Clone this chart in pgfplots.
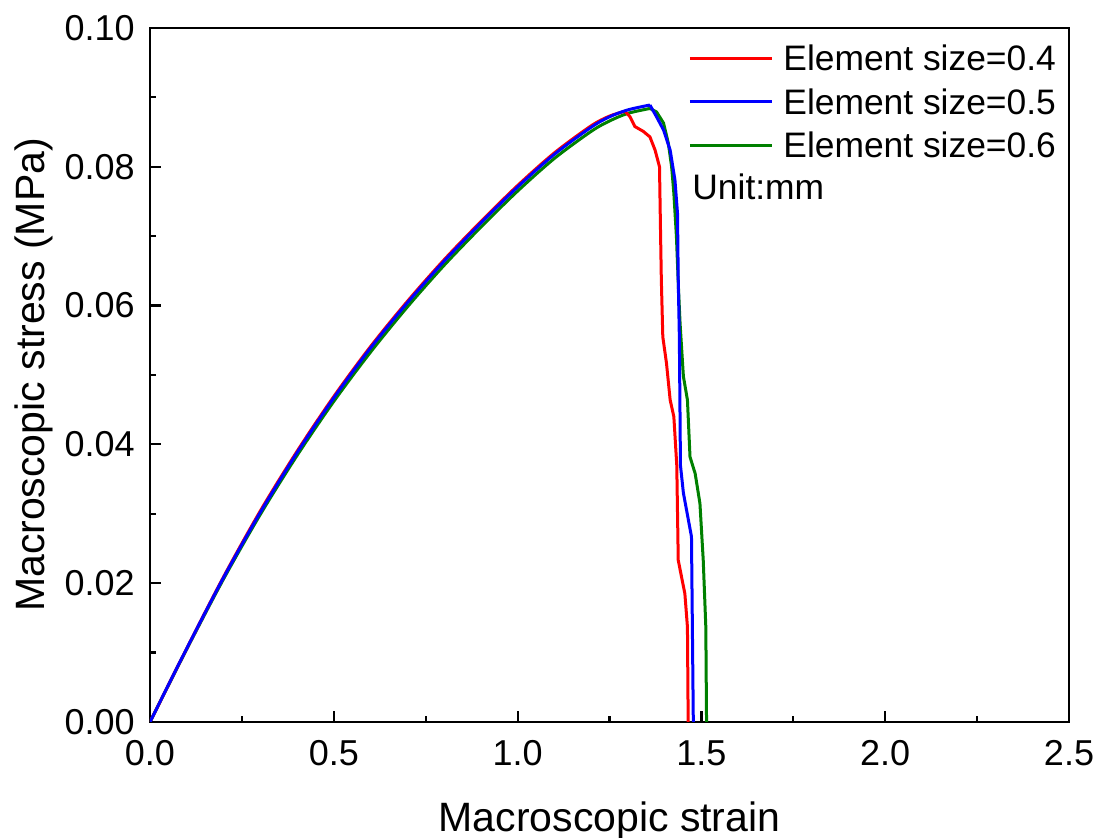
\documentclass[border=0pt]{standalone}
\usepackage{pgfplots}
\pgfplotsset{compat=1.18}
\usepackage{fontspec}
\setmainfont{Liberation Sans}
\definecolor{cred}{RGB}{255,0,0}
\definecolor{cblue}{RGB}{0,0,255}
\definecolor{cgreen}{RGB}{0,128,0}
\begin{document}
\begin{tikzpicture}
\path[use as bounding box] (-75pt,-58pt) rectangle (475.5pt,361pt);
\begin{axis}[
  at={(0pt,0pt)}, anchor=south west,
  scale only axis, width=459.5pt, height=347pt,
  xmin=0, xmax=2.5, ymin=0, ymax=0.1,
  axis line style={line width=1.1pt},
  xtick={0,0.5,...,2.5}, ytick={0,0.02,...,0.1},
  minor x tick num=1, minor y tick num=1,
  tick align=inside, xtick pos=bottom, ytick pos=left,
  major tick length=5.5pt, minor tick length=3pt,
  every tick/.style={black, line width=1.1pt},
  /pgf/number format/assume math mode=true,
  xticklabel style={/pgf/number format/.cd, fixed, fixed zerofill, precision=1, /tikz/.cd, font=\fontsize{18}{20}\selectfont, inner sep=0pt, anchor=north, yshift=-9pt},
  yticklabel style={/pgf/number format/.cd, fixed, fixed zerofill, precision=2, /tikz/.cd, font=\fontsize{18}{20}\selectfont, inner sep=0pt, anchor=east, xshift=-7.5pt},
  scaled y ticks=false,
  xlabel={Macroscopic strain},
  ylabel={Macroscopic stress (MPa)},
  every axis x label/.style={at={(axis description cs:0.5,-0.1585)}, anchor=base, inner sep=0pt, font=\fontsize{20.5}{22}\selectfont},
  every axis y label/.style={at={(axis description cs:-0.1153,0.5)}, rotate=90, anchor=base, inner sep=0pt, font=\fontsize{20.5}{22}\selectfont},
  legend cell align=left,
  legend style={at={(axis description cs:0.5854,0.9748)}, anchor=north west, draw=none, fill=none, inner sep=0pt, row sep=9.25pt, column sep=5pt,
    font=\fontsize{17.7}{19}\selectfont, nodes={inner sep=0pt, text height=12.5pt, text depth=0pt}},
  legend image code/.code={\draw[#1] (0pt,0pt) -- (41pt,0pt);},
  every axis plot/.append style={line width=1.5pt},
]
\addlegendimage{cred}
\addlegendentry{Element size=0.4}
\addlegendimage{cblue}
\addlegendentry{Element size=0.5}
\addlegendimage{cgreen}
\addlegendentry{Element size=0.6}
% green (size 0.6)
\addplot[cgreen, smooth, forget plot] coordinates {
(0,0) (0.1,0.0105) (0.2,0.0206) (0.3,0.0299) (0.4,0.0384) (0.5,0.0462) (0.6,0.0533)
(0.7,0.0598) (0.8,0.0658) (0.9,0.0713) (1.0,0.0765) (1.1,0.0812) (1.2,0.0851) (1.25,0.0866)
(1.3,0.0877) (1.36,0.0884)
};
\addplot[cgreen, forget plot] coordinates {
(1.36,0.0884) (1.378,0.0879) (1.397,0.0863) (1.410,0.0834) (1.419,0.0800)
(1.425,0.0762) (1.432,0.0700) (1.438,0.0620) (1.442,0.0574) (1.451,0.0498) (1.462,0.0464)
(1.469,0.0382) (1.483,0.0358) (1.496,0.0315) (1.505,0.0233) (1.512,0.0137) (1.514,0)
};
% red (size 0.4)
\addplot[cred, smooth, forget plot] coordinates {
(0,0) (0.1,0.0106) (0.2,0.0209) (0.3,0.0304) (0.4,0.0390) (0.5,0.0469) (0.6,0.0541)
(0.7,0.0606) (0.8,0.0666) (0.9,0.0721) (1.0,0.0773) (1.1,0.0820) (1.2,0.0859) (1.25,0.0873)
(1.292,0.0880)
};
\addplot[cred, forget plot] coordinates {
(1.292,0.0880) (1.306,0.0872) (1.319,0.0858) (1.342,0.0851) (1.360,0.0843) (1.374,0.0824)
(1.386,0.0800) (1.389,0.0700) (1.391,0.0637) (1.395,0.0555) (1.405,0.0517) (1.415,0.0464)
(1.425,0.0440) (1.433,0.0370) (1.437,0.0233) (1.455,0.0185) (1.462,0.0137) (1.464,0)
};
% blue (size 0.5)
\addplot[cblue, smooth, forget plot] coordinates {
(0,0) (0.1,0.0106) (0.2,0.0208) (0.3,0.0302) (0.4,0.0388) (0.5,0.0467) (0.6,0.0539)
(0.7,0.0604) (0.8,0.0664) (0.9,0.0719) (1.0,0.0771) (1.1,0.0818) (1.2,0.0857) (1.25,0.0872)
(1.3,0.0882) (1.36,0.0889)
};
\addplot[cblue, forget plot] coordinates {
(1.36,0.0889) (1.378,0.0872) (1.397,0.0853) (1.415,0.0824) (1.428,0.0781)
(1.435,0.0733) (1.437,0.0637) (1.440,0.0555) (1.443,0.0370) (1.451,0.0330) (1.473,0.0267)
(1.478,0)
};
\node[anchor=base west, inner sep=0pt, font=\fontsize{17.7}{19}\selectfont] at (axis description cs:0.5898,0.7522) {Unit:mm};
\end{axis}
\end{tikzpicture}
\end{document}
